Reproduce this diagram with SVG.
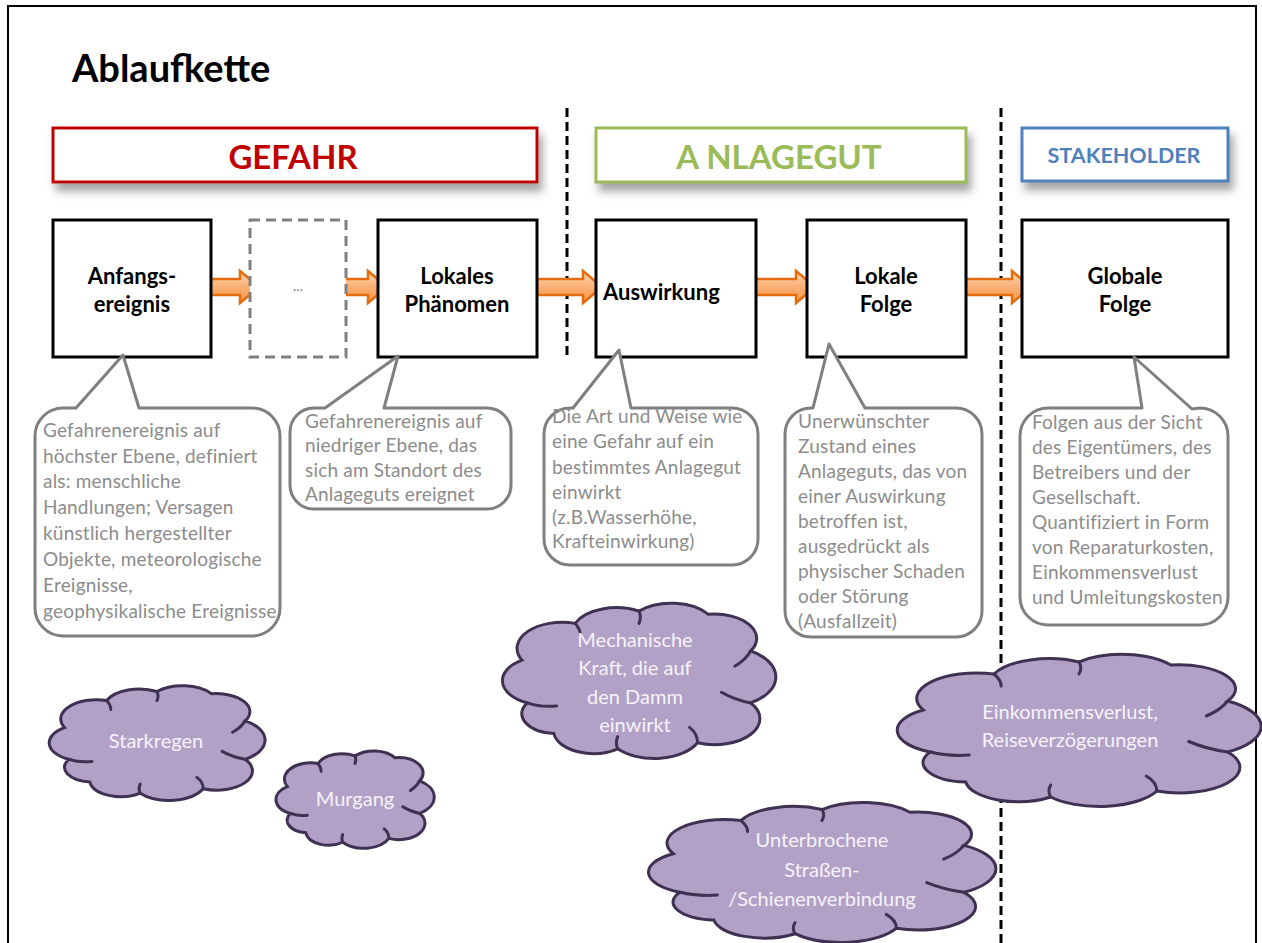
<svg xmlns="http://www.w3.org/2000/svg" width="1262" height="943" viewBox="0 0 1262 943">
<style>
.frame{fill:#fff;stroke:#000;stroke-width:2}
.title{font-family:Lato,"Liberation Sans",sans-serif;font-weight:bold;font-size:38px;fill:#000}
.hdr{font-family:Lato,"Liberation Sans",sans-serif;font-weight:bold;text-anchor:middle}
.box{fill:#fff;stroke:#000;stroke-width:3}
.dbox{fill:#fff;stroke:#808080;stroke-width:3;stroke-dasharray:10 6}
.lbl{font-family:Lato,"Liberation Sans",sans-serif;font-weight:bold;font-size:22px;fill:#000;text-anchor:middle}
.sep{stroke:#000;stroke-width:3;stroke-dasharray:9 5;fill:none}
.arr{fill:url(#og);stroke:#E46C0A;stroke-width:2.5;stroke-linejoin:miter}
.call{fill:#fff;stroke:#7F7F7F;stroke-width:3;stroke-linejoin:round}
.ct{font-family:Lato,"Liberation Sans",sans-serif;font-size:19px;letter-spacing:0.2px;fill:#8C8C8C}
.cloud{fill:#B2A1C7;stroke:#3F3151;stroke-width:3}
.cin{fill:none;stroke:#3F3151;stroke-width:3;stroke-linecap:round}
.cwt{font-family:Lato,"Liberation Sans",sans-serif;font-size:20px;fill:#F6F3FA;text-anchor:middle}
</style>
<defs>
<linearGradient id="og" x1="0" y1="0" x2="0" y2="1">
<stop offset="0" stop-color="#FDDCC0"/>
<stop offset="0.45" stop-color="#FAB27A"/>
<stop offset="1" stop-color="#F79646"/>
</linearGradient>
<filter id="sh" x="-10%" y="-30%" width="120%" height="180%">
<feDropShadow dx="4" dy="8" stdDeviation="4" flood-color="#7f7f7f" flood-opacity="0.7"/>
</filter>
<path id="cloudshape" vector-effect="non-scaling-stroke" d="M8,64 A16,16 0 0 1 6,36 A17,17 0 0 1 26,12 A17,17 0 0 1 50,4 A17,17 0 0 1 76,6 A16,16 0 0 1 92,30 A20,20 0 0 1 92,64 A17,17 0 0 1 72,90 A18,18 0 0 1 42,94 A15,15 0 0 1 18,84 A13,13 0 0 1 8,64 Z"/>
<path id="cloudin" vector-effect="non-scaling-stroke" d="M8,64 Q13,67 19,66 M26,12 Q28,16 28,20 M50,4 Q51,8 50,12 M92,30 Q90,36 86,40 M92,64 Q86,62 81,57 M72,90 Q72,84 69,80 M42,94 Q41,90 42,86"/>
</defs>

<rect class="frame" x="8" y="6" width="1248" height="945"/>
<text class="title" x="72" y="82">Ablaufkette</text>

<g id="separators">
<line class="sep" x1="567" y1="108" x2="567" y2="360"/>
<line class="sep" x1="1001" y1="108" x2="1001" y2="943"/>
</g>

<g id="hdr-gefahr">
<rect x="53" y="128" width="484" height="54" fill="#fff" stroke="#C00000" stroke-width="3" filter="url(#sh)"/>
<text class="hdr" x="293" y="169" font-size="33" fill="#C00000">GEFAHR</text>
</g>
<g id="hdr-anlagegut">
<rect x="596" y="128" width="370" height="54" fill="#fff" stroke="#9BBB59" stroke-width="3" filter="url(#sh)"/>
<text class="hdr" x="779" y="169" font-size="33" fill="#9BBB59">A NLAGEGUT</text>
</g>
<g id="hdr-stakeholder">
<rect x="1022" y="128" width="206" height="53" fill="#fff" stroke="#4F81BD" stroke-width="3" filter="url(#sh)"/>
<text class="hdr" x="1124" y="163" font-size="21.5" fill="#4F81BD">STAKEHOLDER</text>
</g>

<g id="connectors">
<polygon class="arr" points="197,279 240,279 240,271 259,287 240,303 240,295 197,295 206,287"/>
<polygon class="arr" points="336,279 368,279 368,271 387,287 368,303 368,295 336,295 345,287"/>
<polygon class="arr" points="525,279 583,279 583,271 602,287 583,303 583,295 525,295 534,287"/>
<polygon class="arr" points="731,279 796,279 796,271 815,287 796,303 796,295 731,295 740,287"/>
<polygon class="arr" points="952,279 1012,279 1012,271 1031,287 1012,303 1012,295 952,295 961,287"/>
</g>

<g id="n-anfang">
<rect class="box" x="53" y="220" width="158" height="137"/>
<text class="lbl" x="132" y="284">Anfangs-</text>
<text class="lbl" x="132" y="312">ereignis</text>
</g>
<g id="n-dots">
<rect class="dbox" x="250" y="220" width="96" height="137"/>
<text x="298" y="291" font-family="Lato,'Liberation Sans',sans-serif" font-size="14" fill="#808080" text-anchor="middle">...</text>
</g>
<g id="n-lokales">
<rect class="box" x="378" y="220" width="159" height="137"/>
<text class="lbl" x="457" y="284">Lokales</text>
<text class="lbl" x="457" y="312">Phänomen</text>
</g>
<g id="n-auswirkung">
<rect class="box" x="596" y="220" width="160" height="137"/>
<text class="lbl" x="603" y="300" style="text-anchor:start">Auswirkung</text>
</g>
<g id="n-lokalefolge">
<rect class="box" x="807" y="220" width="159" height="137"/>
<text class="lbl" x="886" y="284">Lokale</text>
<text class="lbl" x="886" y="312">Folge</text>
</g>
<g id="n-globalefolge">
<rect class="box" x="1022" y="220" width="206" height="137"/>
<text class="lbl" x="1125" y="284">Globale</text>
<text class="lbl" x="1125" y="312">Folge</text>
</g>

<g id="c-anfang">
<path class="call" d="M63,408 L76,408 L123,355 L139,408 L252,408 A28,28 0 0 1 280,436 L280,608 A28,28 0 0 1 252,636 L63,636 A28,28 0 0 1 35,608 L35,436 A28,28 0 0 1 63,408 Z"/>
<text class="ct"><tspan x="43" y="437">Gefahrenereignis auf</tspan><tspan x="43" y="463">höchster Ebene, definiert</tspan><tspan x="43" y="488">als: menschliche</tspan><tspan x="43" y="514">Handlungen; Versagen</tspan><tspan x="43" y="540">künstlich hergestellter</tspan><tspan x="43" y="566">Objekte, meteorologische</tspan><tspan x="43" y="592">Ereignisse,</tspan><tspan x="43" y="618">geophysikalische Ereignisse</tspan></text>
</g>
<g id="c-lokales">
<path class="call" d="M314,408 L325,408 L398,356 L384,408 L487,408 A24,24 0 0 1 511,432 L511,485 A24,24 0 0 1 487,509 L314,509 A24,24 0 0 1 290,485 L290,432 A24,24 0 0 1 314,408 Z"/>
<text class="ct"><tspan x="305" y="428">Gefahrenereignis auf</tspan><tspan x="305" y="452">niedriger Ebene, das</tspan><tspan x="305" y="477">sich am Standort des</tspan><tspan x="305" y="501">Anlageguts ereignet</tspan></text>
</g>
<g id="c-auswirkung">
<path class="call" d="M570,408 L573,408 L619,350 L631,408 L732,408 A26,26 0 0 1 758,434 L758,539 A26,26 0 0 1 732,565 L570,565 A26,26 0 0 1 544,539 L544,434 A26,26 0 0 1 570,408 Z"/>
<text class="ct"><tspan x="552" y="423">Die Art und  Weise wie</tspan><tspan x="552" y="448">eine Gefahr auf ein</tspan><tspan x="552" y="474">bestimmtes Anlagegut</tspan><tspan x="552" y="499">einwirkt</tspan><tspan x="552" y="524">(z.B.Wasserhöhe,</tspan><tspan x="552" y="548">Krafteinwirkung)</tspan></text>
</g>
<g id="c-lokalefolge">
<path class="call" d="M811,408 L813,408 L829,344 L865,408 L956,408 A26,26 0 0 1 982,434 L982,611 A26,26 0 0 1 956,637 L811,637 A26,26 0 0 1 785,611 L785,434 A26,26 0 0 1 811,408 Z"/>
<text class="ct"><tspan x="798" y="428">Unerwünschter</tspan><tspan x="798" y="453">Zustand eines</tspan><tspan x="798" y="478">Anlageguts, das von</tspan><tspan x="798" y="503">einer Auswirkung</tspan><tspan x="798" y="528">betroffen ist,</tspan><tspan x="798" y="553">ausgedrückt als</tspan><tspan x="798" y="578">physischer Schaden</tspan><tspan x="798" y="603">oder Störung</tspan><tspan x="798" y="628">(Ausfallzeit)</tspan></text>
</g>
<g id="c-globalefolge">
<path class="call" d="M1048,408 L1142,408 L1134,357 L1192,409 L1200,408 A28,28 0 0 1 1228,436 L1228,597 A28,28 0 0 1 1200,625 L1048,625 A28,28 0 0 1 1020,597 L1020,436 A28,28 0 0 1 1048,408 Z"/>
<text class="ct"><tspan x="1032" y="429">Folgen aus der Sicht</tspan><tspan x="1032" y="454">des Eigentümers, des</tspan><tspan x="1032" y="479">Betreibers und der</tspan><tspan x="1032" y="504">Gesellschaft.</tspan><tspan x="1032" y="529">Quantifiziert in Form</tspan><tspan x="1032" y="554">von Reparaturkosten,</tspan><tspan x="1032" y="579">Einkommensverlust</tspan><tspan x="1032" y="604">und Umleitungskosten</tspan></text>
</g>

<g id="cl-starkregen">
<g transform="translate(52,687) scale(2.1,1.13)"><use href="#cloudshape" class="cloud"/><use href="#cloudin" class="cin"/></g>
<text class="cwt" x="156" y="748" font-size="21">Starkregen</text>
</g>
<g id="cl-murgang">
<g transform="translate(278,752) scale(1.54,0.96)"><use href="#cloudshape" class="cloud"/><use href="#cloudin" class="cin"/></g>
<text class="cwt" x="355" y="806">Murgang</text>
</g>
<g id="cl-mechanische">
<g transform="translate(506,605) scale(2.66,1.53)"><use href="#cloudshape" class="cloud"/><use href="#cloudin" class="cin"/></g>
<text class="cwt"><tspan x="635" y="647">Mechanische</tspan><tspan x="635" y="675">Kraft, die auf</tspan><tspan x="635" y="704">den Damm</tspan><tspan x="635" y="732">einwirkt</tspan></text>
</g>
<g id="cl-einkommen">
<g transform="translate(902,656) scale(3.54,1.5)"><use href="#cloudshape" class="cloud"/><use href="#cloudin" class="cin"/></g>
<text class="cwt"><tspan x="1070" y="719">Einkommensverlust,</tspan><tspan x="1070" y="747">Reiseverzögerungen</tspan></text>
</g>
<g id="cl-unterbrochen">
<g transform="translate(653,804) scale(3.38,1.38)"><use href="#cloudshape" class="cloud"/><use href="#cloudin" class="cin"/></g>
<text class="cwt"><tspan x="822" y="847">Unterbrochene</tspan><tspan x="822" y="877">Straßen-</tspan><tspan x="822" y="906">/Schienenverbindung</tspan></text>
</g>
</svg>
